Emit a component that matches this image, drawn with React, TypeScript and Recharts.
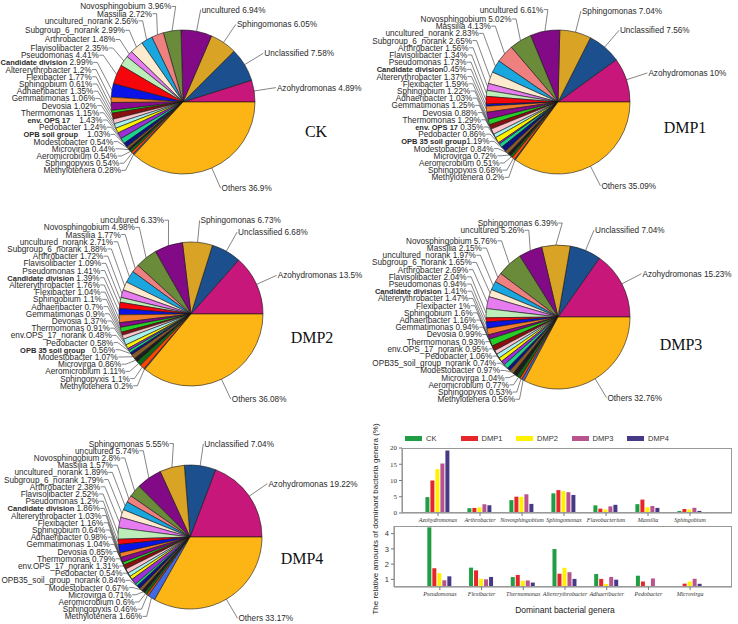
import { PieChart, Pie, Cell, BarChart, Bar, XAxis, YAxis } from 'recharts';

// slice order, counter-clockwise from 3 o'clock
const genera = [
  'Azohydromonas', 'Unclassified', 'Sphingomonas', 'uncultured', 'Novosphingobium', 'Massilia',
  'uncultured_norank', 'Subgroup_6_norank', 'Arthrobacter', 'Flavisolibacter', 'Pseudomonas',
  'Candidate division', 'Altererythrobacter', 'Flexibacter', 'Sphingobium', 'Adhaeribacter',
  'Gemmatimonas', 'Devosia', 'Thermomonas', 'env.OPS_17_norank', 'Pedobacter',
  'OPB35_soil_group_norank', 'Modestobacter', 'Microvirga', 'Aeromicrobium', 'Sphingopyxis',
  'Methylotenera', 'Others',
];

const ckValues = [4.89, 7.58, 6.05, 6.94, 3.96, 2.72, 2.56, 2.99, 1.48, 2.35, 4.41, 2.99, 1.2, 1.77, 0.61, 1.35, 1.06, 1.02, 1.15, 1.43, 1.24, 1.03, 0.54, 0.44, 0.54, 0.54, 0.28, 36.9];
const dmp1Values = [10, 7.56, 7.04, 6.61, 5.02, 4.13, 2.83, 2.65, 1.56, 1.34, 1.73, 0.45, 1.37, 1.59, 1.22, 1.03, 1.25, 0.88, 1.29, 0.35, 0.86, 1.19, 0.84, 0.72, 0.51, 0.68, 0.2, 35.09];
const dmp2Values = [13.5, 6.68, 6.73, 6.33, 4.98, 1.77, 2.71, 1.88, 1.72, 1.09, 1.41, 1.39, 1.76, 1.04, 1.1, 0.7, 0.9, 1.37, 0.91, 0.48, 0.58, 0.56, 1.07, 0.86, 1.11, 1.1, 0.2, 36.08];
const dmp3Values = [15.23, 7.04, 6.39, 5.26, 5.76, 2.15, 1.97, 1.65, 2.69, 2.04, 0.94, 1.41, 1.47, 1, 1.6, 1.16, 0.94, 0.99, 0.93, 0.95, 1.06, 0.74, 0.97, 1.04, 0.77, 0.53, 0.56, 32.76];
const dmp4Values = [19.22, 7.04, 5.55, 5.74, 2.8, 1.57, 1.89, 1.79, 2.38, 2.52, 1.2, 1.86, 1.03, 1.16, 0.64, 0.98, 1.04, 0.85, 0.79, 1.31, 0.54, 0.84, 0.67, 0.71, 0.6, 0.46, 1.66, 33.17];

const sliceColors = [
  '#c8177a', '#1b4f8e', '#d9a326', '#820a87', '#6a8b3a', '#ee8080', '#1aa7e0', '#fdebd0',
  '#e67cf0', '#bdedb9', '#f5060c', '#0a14e6', '#f27e2c', '#8c0a8f', '#26cf26', '#8b0f0f',
  '#ffc4cc', '#a8f0f0', '#fff200', '#9b30d9', '#1bd38b', '#0d1480', '#8b5a2b', '#1c1c1c',
  '#0e6a17', '#ff4500', '#4169e1', '#fdb515',
];

// label text that differs from the default genus name: [name, separator]
const ckNames: Record<number, [string, string]> = { 19: ['env. OPS 17', '    '], 21: ['OPB soil group', '    '] };
const dmp1Names: Record<number, [string, string]> = { 11: ['Candidate division', ''], 19: ['env. OPS 17', ' '], 21: ['OPB 35 soil group', ''] };
const dmp2Names: Record<number, [string, string]> = { 21: ['OPB 35 soil group', '   '] };
const boldNames = ['Candidate division', 'OPB 35 soil group', 'OPB soil group', 'env. OPS 17'];

// bar panels
const seriesNames = ['CK', 'DMP1', 'DMP2', 'DMP3', 'DMP4'];
const seriesColors = ['#1f9e43', '#e5262b', '#fff100', '#b8538d', '#463a87'];
const topGenera = ['Azohydromonas', 'Arthrobacter', 'Novosphingobium', 'Sphingomonas', 'Flavobacterium', 'Massilia', 'Sphingobium'];
const topCK = [4.89, 1.48, 3.96, 6.05, 2.35, 2.72, 0.61];
const topDMP1 = [10, 1.56, 5.02, 7.04, 1.34, 4.13, 1.22];
const topDMP2 = [13.5, 1.72, 4.98, 6.73, 1.09, 1.77, 1.1];
const topDMP3 = [15.23, 2.69, 5.76, 6.39, 2.04, 2.15, 1.6];
const topDMP4 = [19.22, 2.38, 2.8, 5.55, 2.52, 1.57, 0.64];
const topTicks = [0, 5, 10, 15, 20];
const bottomGenera = ['Pseudomonas', 'Flexibacter', 'Thermomonas', 'Altererythrobacter', 'Adhaeribacter', 'Pedobacter', 'Microvirga'];
const bottomCK = [4.41, 1.77, 1.15, 2.99, 1.35, 1.24, 0.44];
const bottomDMP1 = [1.73, 1.59, 1.29, 1.37, 1.03, 0.86, 0.72];
const bottomDMP2 = [1.41, 1.04, 0.91, 1.76, 0.7, 0.58, 0.86];
const bottomDMP3 = [0.94, 1, 0.93, 1.47, 1.16, 1.06, 1.04];
const bottomDMP4 = [1.2, 1.16, 0.79, 1.03, 0.98, 0.54, 0.71];
const bottomTicks = [1, 2, 3, 4];

const RAD = Math.PI / 180;
const R = 72;
const LABEL_OFF = 22;
const GAP = 7.2;
const sans = '"Liberation Sans", Arial, sans-serif';
const serif = '"Liberation Serif", "Times New Roman", serif';

function labelLayout(values: number[], cx: number, cy: number) {
  const total = values.reduce((a, b) => a + b, 0);
  const rr = R + LABEL_OFF;
  let acc = 0;
  const items = values.map((v) => {
    const mid = ((acc + v / 2) / total) * 360;
    acc += v;
    return {
      mid,
      left: mid > 90 && mid < 270,
      x: cx + rr * Math.cos(mid * RAD),
      y: cy - rr * Math.sin(mid * RAD),
    };
  });
  // push the left column up so the labels do not overlap
  const left = items.filter((d) => d.left);
  for (let i = left.length - 2; i >= 0; i--) {
    left[i].y = Math.min(left[i].y, left[i + 1].y - GAP);
  }
  return items;
}

function PieBlock({ values, names, top, height, cx, cy, title, tx, ty }: any) {
  const layout = labelLayout(values, cx, cy);
  const data = values.map((v: number, i: number) => ({ name: genera[i], value: v }));

  const renderLabel = (p: any) => {
    const it = layout[p.index];
    const mid = p.midAngle ?? it.mid;
    const ex = cx + R * Math.cos(mid * RAD);
    const ey = cy - R * Math.sin(mid * RAD);
    const [name, sep] = names?.[p.index] ?? [genera[p.index], ' '];
    const bold = boldNames.includes(name);
    const txt = (
      <>
        <tspan fontWeight={bold ? 700 : 400} fontSize={bold ? 7.5 : 8.2}>{name}</tspan>
        <tspan>{`${sep}${values[p.index]}%`}</tspan>
      </>
    );
    if (it.left) {
      return (
        <g key={`l${p.index}`}>
          <polyline points={`${ex},${ey} ${it.x + 7},${it.y} ${it.x + 3},${it.y}`} fill="none" stroke="#333" strokeWidth={0.6} />
          <text x={it.x + 2.5} y={it.y} textAnchor="end" dominantBaseline="central" fontSize={8.2} fontFamily={sans} fill="#2a2a2a" style={{ whiteSpace: 'pre' }}>
            {txt}
          </text>
        </g>
      );
    }
    return (
      <g key={`l${p.index}`}>
        <polyline points={`${ex},${ey} ${it.x},${it.y}`} fill="none" stroke="#333" strokeWidth={0.6} />
        <text x={it.x + 1} y={it.y} textAnchor="start" dominantBaseline="central" fontSize={8.2} fontFamily={sans} fill="#2a2a2a" style={{ whiteSpace: 'pre' }}>
          {txt}
        </text>
      </g>
    );
  };

  return (
    <div style={{ position: 'absolute', left: 0, top, width: 738, height }}>
      <PieChart width={738} height={height} margin={{ top: 0, right: 0, bottom: 0, left: 0 }}>
        <Pie
          data={data}
          dataKey="value"
          cx={cx}
          cy={cy}
          outerRadius={R}
          startAngle={0}
          endAngle={360}
          stroke="#151515"
          strokeWidth={0.6}
          labelLine={false}
          label={renderLabel}
          isAnimationActive={false}
        >
          {data.map((_: any, i: number) => (
            <Cell key={i} fill={sliceColors[i]} />
          ))}
        </Pie>
      </PieChart>
      <div style={{ position: 'absolute', left: tx - 40, top: ty - 13, width: 80, textAlign: 'center', fontFamily: serif, fontSize: 16, lineHeight: '16px', color: '#111' }}>
        {title}
      </div>
    </div>
  );
}

function buildRows(cats: string[], cols: number[][]) {
  return cats.map((c, i) => {
    const row: any = { name: c };
    seriesNames.forEach((s, j) => (row[s] = cols[j][i]));
    return row;
  });
}

const topData = buildRows(topGenera, [topCK, topDMP1, topDMP2, topDMP3, topDMP4]);
const bottomData = buildRows(bottomGenera, [bottomCK, bottomDMP1, bottomDMP2, bottomDMP3, bottomDMP4]);

const catTick = { fontSize: 6, fontFamily: serif, fontStyle: 'italic', fill: '#333' };

export default function App() {
  return (
    <div style={{ position: 'absolute', left: 0, top: 0, width: 738, height: 624, background: '#fff', overflow: 'hidden' }}>
      <PieBlock values={ckValues} names={ckNames} top={0} height={205} cx={183} cy={102} title="CK" tx={316} ty={137} />
      <PieBlock values={dmp1Values} names={dmp1Names} top={0} height={205} cx={558} cy={102} title="DMP1" tx={685} ty={133} />
      <PieBlock values={dmp2Values} names={dmp2Names} top={205} height={205} cx={191} cy={109} title="DMP2" tx={312} ty={138} />
      <PieBlock values={dmp3Values} top={205} height={205} cx={558} cy={112} title="DMP3" tx={681} ty={145} />
      <PieBlock values={dmp4Values} top={410} height={214} cx={190} cy={127} title="DMP4" tx={302} ty={154} />

      {/* legend */}
      {seriesNames.map((s, i) => (
        <div key={s} style={{ position: 'absolute', left: 405 + i * 55.5, top: 434, height: 8, display: 'flex', alignItems: 'center', fontFamily: sans, fontSize: 7.5, color: '#333' }}>
          <span style={{ display: 'inline-block', width: 17, height: 5, background: seriesColors[i], marginRight: 4 }} />
          {s}
        </div>
      ))}

      {/* top panel */}
      <div style={{ position: 'absolute', left: 370, top: 405 }}>
        <BarChart width={368} height={125} data={topData} margin={{ top: 43, right: 6, bottom: 0, left: 0 }} barCategoryGap="20%" barGap={1}>
          <XAxis dataKey="name" height={17} interval={0} tick={catTick} tickSize={3} tickLine={{ stroke: '#777' }} axisLine={{ stroke: '#888' }} padding={{ left: 15, right: 21 }} />
          <YAxis width={32} domain={[0, 20]} ticks={topTicks} tick={{ fontSize: 7, fontFamily: serif, fill: '#333' }} tickSize={3} tickLine={{ stroke: '#777' }} axisLine={{ stroke: '#888' }} />
          {seriesNames.map((s, i) => (
            <Bar key={s} dataKey={s} fill={seriesColors[i]} isAnimationActive={false} />
          ))}
        </BarChart>
        <div style={{ position: 'absolute', left: 32, top: 43, width: 330, height: 65, border: '1px solid #999', boxSizing: 'border-box', pointerEvents: 'none' }} />
      </div>

      {/* bottom panel */}
      <div style={{ position: 'absolute', left: 370, top: 520 }}>
        <BarChart width={368} height={100} data={bottomData} margin={{ top: 6, right: 6, bottom: 17, left: 0 }} barCategoryGap="20%" barGap={1}>
          <XAxis dataKey="name" height={16} interval={0} tick={catTick} tickSize={3} tickLine={{ stroke: '#777' }} axisLine={{ stroke: '#888' }} padding={{ left: 25, right: 21 }} />
          <YAxis width={24} domain={[0.5, 4.5]} allowDataOverflow ticks={bottomTicks} tick={{ fontSize: 7.5, fontFamily: sans, fill: '#333' }} tickSize={3} tickLine={{ stroke: '#777' }} axisLine={{ stroke: '#888' }} />
          {seriesNames.map((s, i) => (
            <Bar key={s} dataKey={s} fill={seriesColors[i]} isAnimationActive={false} />
          ))}
        </BarChart>
        <div style={{ position: 'absolute', left: 24, top: 6, width: 338, height: 61, border: '1px solid #999', boxSizing: 'border-box', pointerEvents: 'none' }} />
      </div>

      <div style={{ position: 'absolute', left: 400, top: 605, width: 330, textAlign: 'center', fontFamily: sans, fontSize: 8.5, color: '#222' }}>
        Dominant bacterial genera
      </div>
      <div style={{ position: 'absolute', left: 376 - 115, top: 519 - 5, width: 230, height: 10, lineHeight: '10px', textAlign: 'center', fontFamily: sans, fontSize: 8, color: '#222', transform: 'rotate(-90deg)', transformOrigin: '50% 50%' }}>
        The relative amounts of dominant bacteria genera (%)
      </div>
    </div>
  );
}
